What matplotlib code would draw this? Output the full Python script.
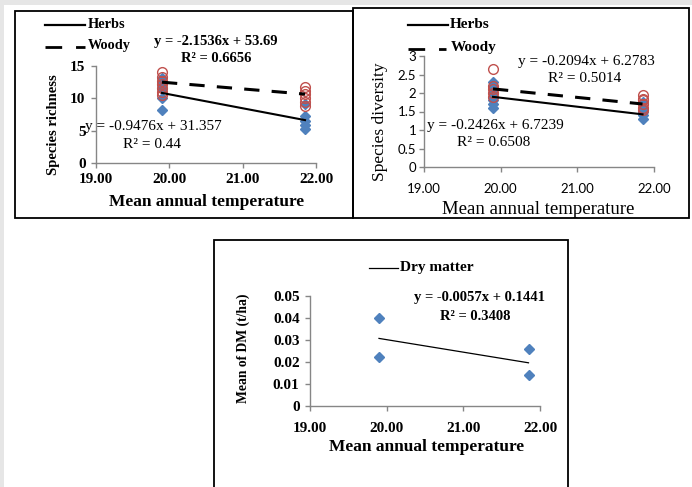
import matplotlib
matplotlib.use('Agg')
import matplotlib.pyplot as plt
from matplotlib.patches import Rectangle
from matplotlib.lines import Line2D
import numpy as np

# ---------------- data ----------------
x_sites = [19.9, 21.85]
x_ticks = [19, 20, 21, 22]
x_tick_labels = ['19.00', '20.00', '21.00', '22.00']

# Panel A: species richness
rich_herbs_t1 = [13.2, 12.5, 12.0, 11.5, 10.0, 8.2]
rich_herbs_t2 = [9.2, 7.3, 6.5, 5.8, 5.2]
rich_woody_t1 = [14.0, 13.3, 12.7, 12.2, 11.6, 11.0, 10.5]
rich_woody_t2 = [11.8, 11.2, 10.6, 10.0, 9.4, 8.8]
rich_herbs_fit = (-2.1536, 53.69)
rich_woody_fit = (-0.9476, 31.357)
rich_yticks = [0, 5, 10, 15]

# Panel B: species diversity
div_herbs_t1 = [2.3, 2.2, 2.1, 2.0, 1.9, 1.8, 1.7, 1.6]
div_herbs_t2 = [1.75, 1.6, 1.5, 1.4, 1.3]
div_woody_t1 = [2.65, 2.2, 2.1, 2.0, 1.9]
div_woody_t2 = [1.95, 1.85, 1.8, 1.7, 1.6, 1.55]
div_herbs_fit = (-0.2426, 6.7239)
div_woody_fit = (-0.2094, 6.2783)
div_yticks = [0, 0.5, 1, 1.5, 2, 2.5, 3]
div_ytick_labels = ['0', '0.5', '1', '1.5', '2', '2.5', '3']

# Panel C: dry matter
dm_t1 = [0.040, 0.022]
dm_t2 = [0.026, 0.014]
dm_fit = (-0.0057, 0.1441)
dm_yticks = [0, 0.01, 0.02, 0.03, 0.04, 0.05]
dm_ytick_labels = ['0', '0.01', '0.02', '0.03', '0.04', '0.05']

# ---------------- layout helpers ----------------
W, H = 692, 487
fig = plt.figure(figsize=(W / 100, H / 100), dpi=100)
fig.patch.set_facecolor('white')


def rect(x0, y0, x1, y1):
    return [x0 / W, 1 - y1 / H, (x1 - x0) / W, (y1 - y0) / H]


def P(x, y):
    return (x / W, 1 - y / H)


SERIF = 'Liberation Serif'
BLUE = '#4F81BD'
RED = '#C0504D'
AXC = '#868686'

# gray strips from screenshot edge
fig.patches.append(Rectangle((0, 0), 4 / W, 1, transform=fig.transFigure,
                             facecolor='#e6e6e6', edgecolor='none', zorder=0))
fig.patches.append(Rectangle((0, 1 - 5 / H), 1, 5 / H, transform=fig.transFigure,
                             facecolor='#e6e6e6', edgecolor='none', zorder=0))

# panel borders
for (x0, y0, x1, y1) in [(15, 11, 353, 218), (353, 8, 689, 218), (214, 240, 568, 495)]:
    fig.patches.append(Rectangle(P(x0, y1), (x1 - x0) / W, (y1 - y0) / H,
                                 transform=fig.transFigure, facecolor='none',
                                 edgecolor='black', linewidth=1.3, zorder=1))


def style_axes(ax, ylim, yticks, ylabels, tickfont, ticksize, tickweight,
               xpad, ypad):
    ax.set_xlim(19, 22)
    ax.set_ylim(*ylim)
    ax.patch.set_alpha(0)
    for s in ['top', 'right']:
        ax.spines[s].set_visible(False)
    for s in ['left', 'bottom']:
        ax.spines[s].set_color(AXC)
        ax.spines[s].set_linewidth(1.0)
    ax.set_xticks(x_ticks)
    ax.set_xticklabels(x_tick_labels)
    ax.set_yticks(yticks)
    ax.set_yticklabels(ylabels)
    ax.tick_params(axis='both', direction='out', length=3.5, width=1.0, color=AXC)
    ax.tick_params(axis='x', pad=xpad)
    ax.tick_params(axis='y', pad=ypad)
    for lab in ax.get_xticklabels() + ax.get_yticklabels():
        lab.set_fontfamily(tickfont)
        lab.set_fontsize(ticksize)
        lab.set_fontweight(tickweight)


def fit_line(ax, fit, **kw):
    xs = np.array(x_sites)
    ax.plot(xs, fit[0] * xs + fit[1], **kw)


# ---------------- Panel A ----------------
axA = fig.add_axes(rect(96, 66, 316, 163))
style_axes(axA, (0, 15), rich_yticks, [str(v) for v in rich_yticks],
           SERIF, 11, 'bold', 4, 4)
axA.plot([x_sites[0]] * len(rich_herbs_t1), rich_herbs_t1, 'D', color=BLUE,
         ms=4.8, mec=BLUE, clip_on=False, zorder=3)
axA.plot([x_sites[1]] * len(rich_herbs_t2), rich_herbs_t2, 'D', color=BLUE,
         ms=4.8, mec=BLUE, clip_on=False, zorder=3)
axA.plot([x_sites[0]] * len(rich_woody_t1), rich_woody_t1, 'o', mfc='none',
         mec=RED, ms=7, mew=1.0, clip_on=False, zorder=4)
axA.plot([x_sites[1]] * len(rich_woody_t2), rich_woody_t2, 'o', mfc='none',
         mec=RED, ms=7, mew=1.0, clip_on=False, zorder=4)
fit_line(axA, rich_herbs_fit, color='black', lw=1.5, zorder=5)
fit_line(axA, rich_woody_fit, color='black', lw=2.2, dashes=(5, 4), zorder=5)

fig.text(*P(53, 125), 'Species richness', rotation=90, ha='center', va='center',
         fontfamily=SERIF, fontweight='bold', fontsize=10.5)
fig.text(*P(207, 202), 'Mean annual temperature', ha='center', va='center',
         fontfamily=SERIF, fontweight='bold', fontsize=12.5)
# legend A
fig.lines.append(Line2D([45 / W, 85 / W], [1 - 25 / H] * 2, transform=fig.transFigure,
                        color='black', lw=1.6))
fig.lines.append(Line2D([45 / W, 85 / W], [1 - 47 / H] * 2, transform=fig.transFigure,
                        color='black', lw=2.0, dashes=(6, 5)))
fig.text(*P(88, 25), 'Herbs', ha='left', va='center', fontfamily=SERIF,
         fontweight='bold', fontsize=10.3)
fig.text(*P(88, 46), 'Woody', ha='left', va='center', fontfamily=SERIF,
         fontweight='bold', fontsize=10.3)
fig.text(*P(216, 42), 'y = -2.1536x + 53.69', ha='center', va='center',
         fontfamily=SERIF, fontweight='bold', fontsize=10.5)
fig.text(*P(216, 58), 'R² = 0.6656', ha='center', va='center',
         fontfamily=SERIF, fontweight='bold', fontsize=10.5)
fig.text(*P(153, 127), 'y = -0.9476x + 31.357', ha='center', va='center',
         fontfamily=SERIF, fontsize=11)
fig.text(*P(152, 145), 'R² = 0.44', ha='center', va='center',
         fontfamily=SERIF, fontsize=11)

# ---------------- Panel B ----------------
axB = fig.add_axes(rect(424, 56, 654, 167))
style_axes(axB, (0, 3), div_yticks, div_ytick_labels, 'Lato', 9.5, 'normal', 8, 2)
axB.plot([x_sites[0]] * len(div_herbs_t1), div_herbs_t1, 'D', color=BLUE,
         ms=4.8, mec=BLUE, clip_on=False, zorder=3)
axB.plot([x_sites[1]] * len(div_herbs_t2), div_herbs_t2, 'D', color=BLUE,
         ms=4.8, mec=BLUE, clip_on=False, zorder=3)
axB.plot([x_sites[0]] * len(div_woody_t1), div_woody_t1, 'o', mfc='none',
         mec=RED, ms=7, mew=1.0, clip_on=False, zorder=4)
axB.plot([x_sites[1]] * len(div_woody_t2), div_woody_t2, 'o', mfc='none',
         mec=RED, ms=7, mew=1.0, clip_on=False, zorder=4)
fit_line(axB, div_herbs_fit, color='black', lw=1.5, zorder=5)
fit_line(axB, div_woody_fit, color='black', lw=2.2, dashes=(5, 4), zorder=5)

fig.text(*P(380, 122), 'Species diversity', rotation=90, ha='center', va='center',
         fontfamily=SERIF, fontsize=12.5)
fig.text(*P(538, 209), 'Mean annual temperature', ha='center', va='center',
         fontfamily=SERIF, fontsize=13.5)
fig.lines.append(Line2D([408 / W, 448 / W], [1 - 25 / H] * 2, transform=fig.transFigure,
                        color='black', lw=1.6))
fig.lines.append(Line2D([408 / W, 446 / W], [1 - 49 / H] * 2, transform=fig.transFigure,
                        color='black', lw=2.0, dashes=(6, 5)))
fig.text(*P(450, 25), 'Herbs', ha='left', va='center', fontfamily=SERIF,
         fontweight='bold', fontsize=11)
fig.text(*P(451, 48), 'Woody', ha='left', va='center', fontfamily=SERIF,
         fontweight='bold', fontsize=11)
fig.text(*P(586, 61), 'y = -0.2094x + 6.2783', ha='center', va='center',
         fontfamily=SERIF, fontsize=11)
fig.text(*P(585, 78), 'R² = 0.5014', ha='center', va='center',
         fontfamily=SERIF, fontsize=11)
fig.text(*P(495, 126), 'y = -0.2426x + 6.7239', ha='center', va='center',
         fontfamily=SERIF, fontsize=11)
fig.text(*P(494, 143), 'R² = 0.6508', ha='center', va='center',
         fontfamily=SERIF, fontsize=11)

# ---------------- Panel C ----------------
axC = fig.add_axes(rect(310, 296, 540, 405.7))
style_axes(axC, (0, 0.05), dm_yticks, dm_ytick_labels, SERIF, 11, 'bold', 8, 4)
axC.plot([x_sites[0]] * len(dm_t1), dm_t1, 'D', color=BLUE, ms=5.2, mec=BLUE,
         clip_on=False, zorder=3)
axC.plot([x_sites[1]] * len(dm_t2), dm_t2, 'D', color=BLUE, ms=5.2, mec=BLUE,
         clip_on=False, zorder=3)
fit_line(axC, dm_fit, color='black', lw=0.9, zorder=5)

fig.text(*P(243, 348), 'Mean of DM (t/ha)', rotation=90, ha='center', va='center',
         fontfamily=SERIF, fontweight='bold', fontsize=9.8)
fig.text(*P(427, 447), 'Mean annual temperature', ha='center', va='center',
         fontfamily=SERIF, fontweight='bold', fontsize=12.5)
fig.lines.append(Line2D([369 / W, 398 / W], [1 - 268 / H] * 2, transform=fig.transFigure,
                        color='black', lw=0.9))
fig.text(*P(400, 268), 'Dry matter', ha='left', va='center', fontfamily=SERIF,
         fontweight='bold', fontsize=11)
fig.text(*P(480, 298), 'y = -0.0057x + 0.1441', ha='center', va='center',
         fontfamily=SERIF, fontweight='bold', fontsize=10.5)
fig.text(*P(475, 317), 'R² = 0.3408', ha='center', va='center',
         fontfamily=SERIF, fontweight='bold', fontsize=10.5)

fig.savefig('out.png', dpi=100)
